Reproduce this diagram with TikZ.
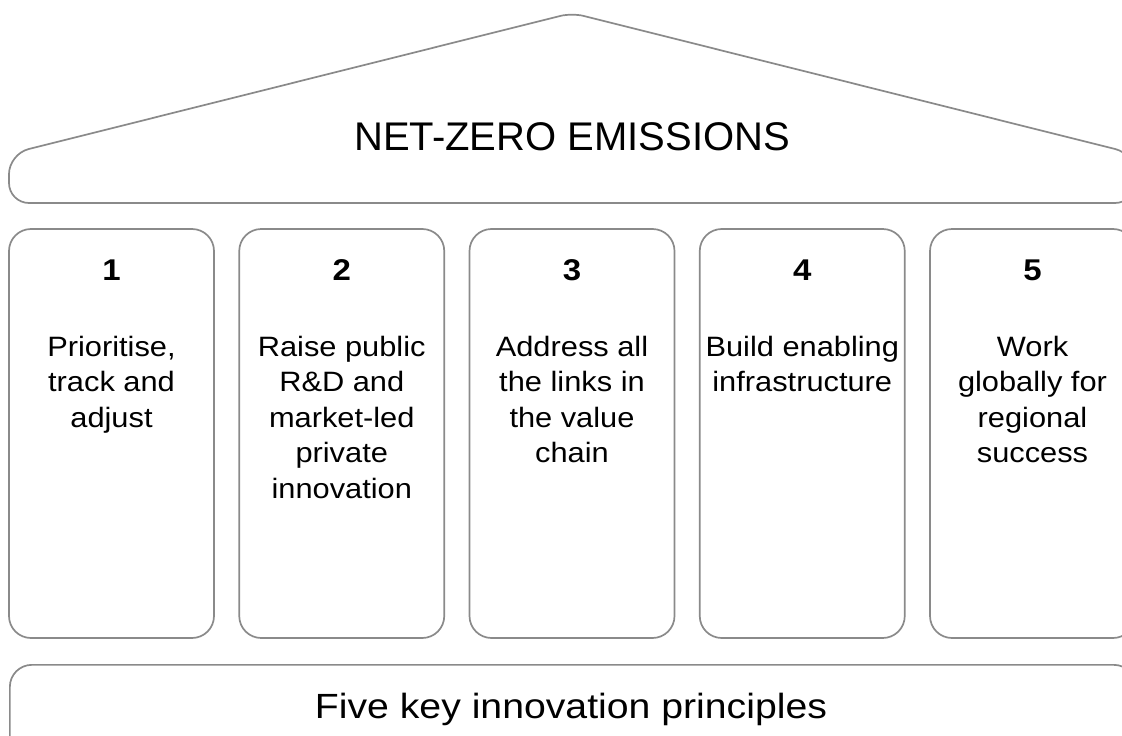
\documentclass[tikz,border=0pt]{standalone}
\usepackage{fontspec}
\setmainfont{Liberation Sans}
\newfontfamily\boxfont[FakeStretch=1.1]{Liberation Sans}
\newfontfamily\basefont[FakeStretch=1.12]{Liberation Sans}
\definecolor{edge}{RGB}{138,138,138}
\begin{document}
\begin{tikzpicture}[x=1pt,y=-1pt,
  outline/.style={draw=edge, line width=1.7pt},
  pillar/.style={outline, rounded corners=22pt, inner sep=0pt},
  numtext/.style={font={\boxfont\bfseries\fontsize{30}{36}\selectfont}, anchor=base, inner sep=0pt},
  bodytext/.style={font={\boxfont\fontsize{28}{35.5}\selectfont}, align=center, anchor=north, inner sep=0pt},
]
\useasboundingbox (0,0) rectangle (1122,736);
\clip (0,0) rectangle (1122,736);
% roof
\draw[outline] (572,203) [rounded corners=20pt] -- (9,203) -- (9,154) [rounded corners=12pt] -- (572,13) [rounded corners=20pt] -- (1135,154) -- (1135,203) -- cycle;
\node[font={\fontsize{40}{48}\selectfont}, anchor=base, inner sep=0pt] (roof) at (572,150) {NET-ZERO EMISSIONS};
% pillars
\foreach \i/\x in {1/111.5,2/341.75,3/572,4/802.25,5/1032.5}{
  \node[pillar, minimum width=205pt, minimum height=409pt] (p\i) at (\x,433.5) {};
  \node[numtext] (n\i) at (\x,280) {\i};
}
\node[bodytext] (t1) at (111.5,336) {Prioritise,\\track and\\adjust};
\node[bodytext] (t2) at (341.75,336) {Raise public\\R\&D and\\market-led\\private\\innovation};
\node[bodytext] (t3) at (572,336) {Address all\\the links in\\the value\\chain};
\node[bodytext] (t4) at (802.25,336) {Build enabling\\infrastructure};
\node[bodytext] (t5) at (1032.5,336) {Work\\globally for\\regional\\success};
% base
\node[pillar, minimum width=1126pt, minimum height=100pt, anchor=north west] (base) at (9,664) {};
\node[font={\basefont\fontsize{35}{42}\selectfont}, anchor=base, inner sep=0pt] (basetext) at (571,718) {Five key innovation principles};
\end{tikzpicture}
\end{document}
